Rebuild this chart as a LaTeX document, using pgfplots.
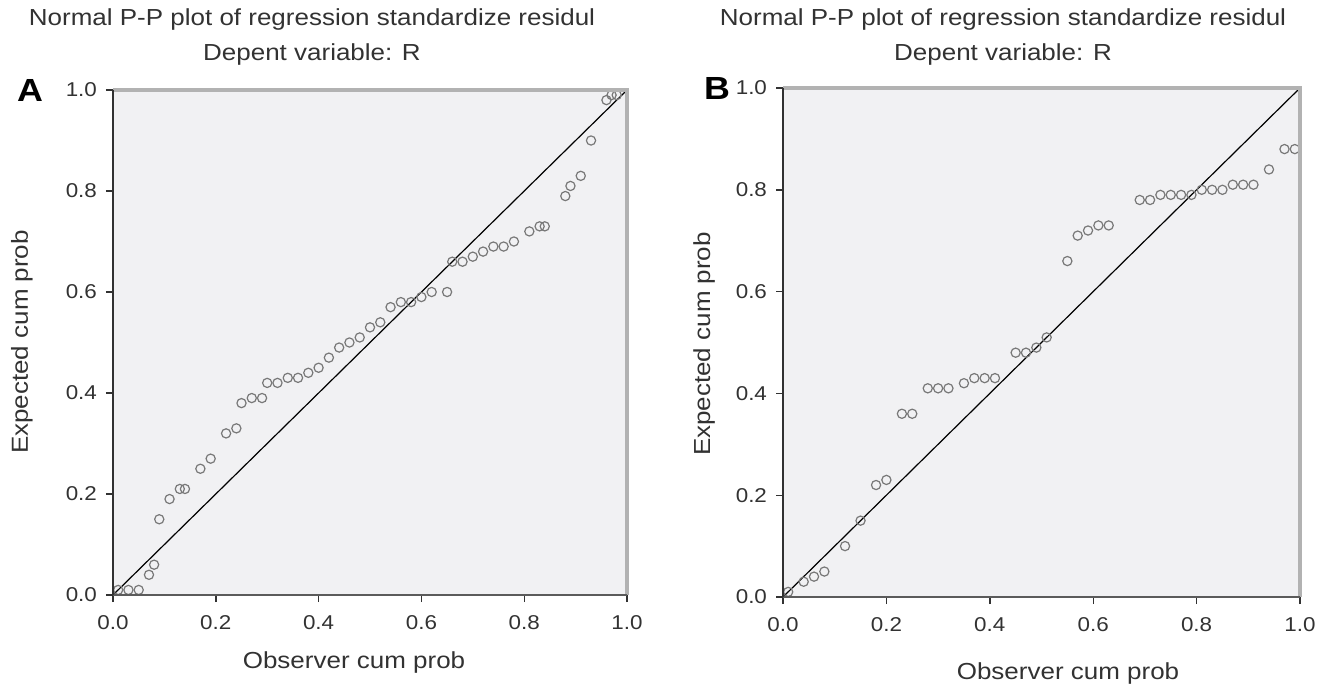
\documentclass[border=0pt]{standalone}
\usepackage{fontspec}
\setmainfont{Liberation Sans}[FakeStretch=1.12]
\usepackage{pgfplots}
\usepackage{pgfplotstable}
\pgfplotsset{compat=1.18}

\definecolor{bgc}{RGB}{241,241,243}
\definecolor{mkc}{RGB}{120,120,120}
\definecolor{txc}{RGB}{50,50,50}

% panel A: observed vs expected cumulative probability
\pgfplotstableread{
x y
0.01 0.01
0.03 0.01
0.05 0.01
0.07 0.04
0.08 0.06
0.09 0.15
0.11 0.19
0.13 0.21
0.14 0.21
0.17 0.25
0.19 0.27
0.22 0.32
0.24 0.33
0.25 0.38
0.27 0.39
0.29 0.39
0.30 0.42
0.32 0.42
0.34 0.43
0.36 0.43
0.38 0.44
0.40 0.45
0.42 0.47
0.44 0.49
0.46 0.50
0.48 0.51
0.50 0.53
0.52 0.54
0.54 0.57
0.56 0.58
0.58 0.58
0.60 0.59
0.62 0.60
0.65 0.60
0.66 0.66
0.68 0.66
0.70 0.67
0.72 0.68
0.74 0.69
0.76 0.69
0.78 0.70
0.81 0.72
0.83 0.73
0.84 0.73
0.88 0.79
0.89 0.81
0.91 0.83
0.93 0.90
0.96 0.98
0.97 0.99
0.98 0.99
}\dataA

% panel B
\pgfplotstableread{
x y
0.01 0.01
0.04 0.03
0.06 0.04
0.08 0.05
0.12 0.10
0.15 0.15
0.18 0.22
0.20 0.23
0.23 0.36
0.25 0.36
0.28 0.41
0.30 0.41
0.32 0.41
0.35 0.42
0.37 0.43
0.39 0.43
0.41 0.43
0.45 0.48
0.47 0.48
0.49 0.49
0.51 0.51
0.55 0.66
0.57 0.71
0.59 0.72
0.61 0.73
0.63 0.73
0.69 0.78
0.71 0.78
0.73 0.79
0.75 0.79
0.77 0.79
0.79 0.79
0.81 0.80
0.83 0.80
0.85 0.80
0.87 0.81
0.89 0.81
0.91 0.81
0.94 0.84
0.97 0.88
0.99 0.88
}\dataB

\pgfplotsset{
  ppstyle/.style={
    scale only axis,
    xmin=0, xmax=1, ymin=0, ymax=1,
    xtick={0,0.2,...,1.0}, ytick={0,0.2,...,1.0},
    xtick pos=bottom, ytick pos=left,
    tick align=outside,
    major tick length=3.5pt,
    tick style={txc, line width=0.7pt},
    axis line style={draw=none},
    axis background/.style={fill=bgc},
    clip=false,
    /pgf/number format/.cd, fixed, fixed zerofill, precision=1, assume math mode=true,
    /pgfplots/.cd,
    ticklabel style={font=\fontsize{10}{12}\selectfont, text=txc},
    xticklabel style={yshift=-3pt},
    yticklabel style={xshift=-1pt},
    after end axis/.code={
      \draw[gray!60, line width=1.6pt] (rel axis cs:0,1) -- (rel axis cs:1,1) -- (rel axis cs:1,0);
      \draw[txc!80, line width=1.1pt] (rel axis cs:1,0) -- (rel axis cs:0,0);
      \draw[txc, line width=1.1pt] (rel axis cs:0,0) -- (rel axis cs:0,1);
    },
  },
}

\begin{document}
\begin{tikzpicture}
\useasboundingbox (0,0) rectangle (665pt,-345pt);

\begin{axis}[ppstyle, at={(56.5pt,-297.5pt)}, anchor=south west,
  width=257pt, height=252.5pt]
  \addplot[black, line width=0.6pt] coordinates {(0,0) (1,1)};
  \addplot[only marks, mark=o, mark size=2.3pt, mkc, mark options={line width=0.6pt}] table[x=x,y=y] {\dataA};
\end{axis}

\begin{axis}[ppstyle, at={(391.5pt,-298.5pt)}, anchor=south west,
  width=258.5pt, height=254.5pt]
  \addplot[black, line width=0.6pt] coordinates {(0,0) (1,1)};
  \addplot[only marks, mark=o, mark size=2.3pt, mkc, mark options={line width=0.6pt}] table[x=x,y=y] {\dataB};
\end{axis}

% titles, panel letters and axis labels
\begin{scope}[every node/.style={text=txc, font=\fontsize{11.6}{13}\selectfont}]
\node at (156pt,-10pt) {Normal P-P plot of regression standardize residul};
\node at (156pt,-27.5pt) {Depent variable: R};
\node at (501.5pt,-10pt) {Normal P-P plot of regression standardize residul};
\node at (501.5pt,-27.5pt) {Depent variable: R};
\node at (177pt,-331pt) {Observer cum prob};
\node at (534pt,-337pt) {Observer cum prob};
\node[rotate=90] at (11pt,-171pt) {Expected cum prob};
\node[rotate=90] at (352pt,-172pt) {Expected cum prob};
\end{scope}
\node[font=\fontsize{16}{18}\selectfont\bfseries, text=black] at (15pt,-45pt) {A};
\node[font=\fontsize{16}{18}\selectfont\bfseries, text=black] at (358.5pt,-44pt) {B};
\end{tikzpicture}
\end{document}
